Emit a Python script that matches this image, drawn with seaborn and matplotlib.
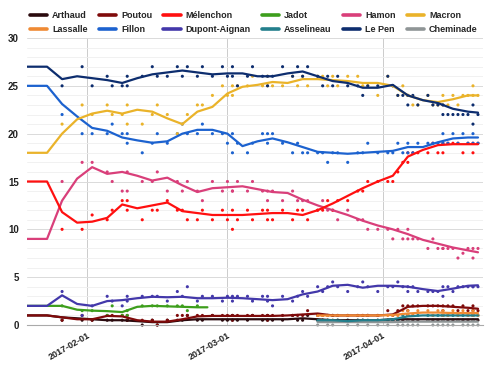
import numpy as np
import pandas as pd
import matplotlib
matplotlib.use("Agg")
import matplotlib.pyplot as plt
from matplotlib.lines import Line2D
import seaborn as sns

nan = np.nan

# ---------------- data ----------------
candidates = ["Arthaud", "Poutou", "Mélenchon", "Jadot", "Hamon", "Macron",
              "Lassalle", "Fillon", "Dupont-Aignan", "Asselineau", "Le Pen", "Cheminade"]
colors = ["#2a0a0e", "#7f0a0a", "#ff1010", "#3d9e1c", "#d93f7a", "#eab32a",
          "#ef8a34", "#1c62cf", "#4338aa", "#237f8c", "#0d2d6e", "#8f9596"]

# trend (smoothed average) knots
trend_dates = ["2017-01-20", "2017-01-24", "2017-01-27", "2017-01-30", "2017-02-02", "2017-02-05",
               "2017-02-08", "2017-02-11", "2017-02-14", "2017-02-17", "2017-02-20", "2017-02-23",
               "2017-02-26", "2017-03-01", "2017-03-04", "2017-03-07", "2017-03-10", "2017-03-13",
               "2017-03-16", "2017-03-19", "2017-03-22", "2017-03-25", "2017-03-28", "2017-03-31",
               "2017-04-03", "2017-04-06", "2017-04-09", "2017-04-12", "2017-04-15", "2017-04-18",
               "2017-04-20"]
trend_lepen = [27, 27, 25.7, 26.0, 25.8, 25.6, 25.3, 25.8, 26.2, 26.4, 26.6, 26.4, 26.2, 26.3, 26.3, 26.0,
               26.0, 26.3, 26.5, 26.0, 25.5, 25.3, 24.8, 24.8, 25.1, 24.0, 23.5, 23.2, 22.6, 22.3, 22.2]
trend_macron = [18, 18, 20.0, 21.5, 22.1, 22.4, 22.1, 22.5, 22.3, 21.6, 21.0, 22.3, 22.8, 24.2, 24.9, 25.1,
                25.4, 25.3, 25.7, 25.7, 25.6, 25.5, 25.3, 25.3, 25.0, 24.0, 23.5, 23.3, 23.6, 24.0, 24.0]
trend_fillon = [25, 25, 23.1, 21.8, 20.6, 20.3, 19.6, 19.3, 19.05, 19.2, 20.0, 20.4, 20.4, 20.0, 18.7, 19.2,
                19.5, 19.1, 18.6, 18.1, 18.0, 17.9, 18.0, 18.1, 18.2, 18.6, 18.6, 19.1, 19.5, 19.6, 19.6]
trend_melenchon = [15, 15, 11.8, 10.7, 10.8, 11.2, 12.6, 12.2, 12.5, 12.8, 11.9, 11.7, 11.5, 11.5, 11.5, 11.6,
                   11.7, 11.7, 11.5, 12.0, 12.7, 13.5, 14.3, 15.0, 15.6, 17.6, 18.3, 18.8, 18.9, 18.9, 18.9]
trend_hamon = [9, 9, 13.0, 15.3, 16.5, 15.8, 16.0, 15.6, 15.1, 15.4, 14.6, 13.9, 14.3, 14.4, 14.5, 14.2,
               13.9, 13.8, 13.1, 12.5, 12.0, 11.5, 10.9, 10.4, 10.0, 9.5, 8.9, 8.5, 8.1, 7.8, 7.6]
trend_dupont = [2, 2, 3.1, 2.2, 2.0, 2.5, 2.6, 2.8, 2.95, 2.9, 2.95, 2.8, 2.8, 2.85, 2.8, 2.7,
                2.6, 2.7, 3.2, 3.5, 4.1, 4.2, 3.9, 4.1, 4.1, 4.0, 3.75, 3.55, 3.8, 4.1, 4.15]
trend_arthaud = [1, 1, 0.8, 0.7, 0.6, 0.5, 0.5, 0.4, 0.3, 0.3, 0.5, 0.6, 0.6, 0.6, 0.6, 0.6,
                 0.6, 0.6, 0.7, 0.6, 0.5, 0.5, 0.5, 0.5, 0.6, 0.6, 0.6, 0.6, 0.6, 0.6, 0.6]
trend_poutou = [1, 1, 0.8, 0.6, 0.6, 0.95, 0.9, 0.5, 0.35, 0.35, 0.6, 0.9, 0.95, 0.95, 0.95, 0.95,
                0.95, 1.0, 1.1, 1.2, 1.0, 1.0, 1.0, 1.0, 1.1, 1.9, 2.0, 2.0, 1.9, 1.8, 1.7]

jadot_dates = ["2017-01-20", "2017-01-24", "2017-01-27", "2017-01-30", "2017-02-02", "2017-02-05",
               "2017-02-08", "2017-02-11", "2017-02-14", "2017-02-17", "2017-02-20", "2017-02-23",
               "2017-02-25"]
trend_jadot = [2, 2, 2.0, 1.6, 1.5, 1.45, 1.35, 1.9, 2.0, 1.95, 1.9, 1.85, 1.85]

minor_dates = ["2017-03-19", "2017-03-22", "2017-03-25", "2017-03-28", "2017-03-31", "2017-04-03",
               "2017-04-06", "2017-04-09", "2017-04-12", "2017-04-15", "2017-04-18", "2017-04-20"]
trend_lassalle = [1.0, 1.0, 1.0, 1.0, 1.0, 1.05, 1.2, 1.3, 1.3, 1.25, 1.25, 1.25]
trend_asselineau = [0.5, 0.5, 0.4, 0.5, 0.5, 0.6, 0.9, 1.0, 1.0, 1.0, 1.0, 1.0]
trend_cheminade = [0.3, 0.3, 0.3, 0.3, 0.3, 0.3, 0.35, 0.35, 0.35, 0.35, 0.35, 0.35]

# individual polls
poll_dates = [
    "2017-01-27", "2017-01-31", "2017-02-02", "2017-02-05", "2017-02-06", "2017-02-08", "2017-02-09", "2017-02-09", "2017-02-12", "2017-02-14",
    "2017-02-15", "2017-02-17", "2017-02-19", "2017-02-20", "2017-02-21", "2017-02-23", "2017-02-24", "2017-02-26", "2017-02-28", "2017-03-01",
    "2017-03-02", "2017-03-02", "2017-03-03", "2017-03-05", "2017-03-06", "2017-03-08", "2017-03-09", "2017-03-09", "2017-03-10", "2017-03-12",
    "2017-03-14", "2017-03-15", "2017-03-16", "2017-03-17", "2017-03-19", "2017-03-20", "2017-03-21", "2017-03-22", "2017-03-23", "2017-03-25",
    "2017-03-27", "2017-03-28", "2017-03-29", "2017-03-31", "2017-04-02", "2017-04-03", "2017-04-04", "2017-04-05", "2017-04-06", "2017-04-06",
    "2017-04-07", "2017-04-08", "2017-04-10", "2017-04-11", "2017-04-12", "2017-04-13", "2017-04-13", "2017-04-14", "2017-04-15", "2017-04-16",
    "2017-04-17", "2017-04-18", "2017-04-19", "2017-04-19", "2017-04-20"]
poll_lepen = [25, 27, 25, 26, 25, 25, 26, 25, 26, 27,
              26, 26, 27, 26, 27, 26, 27, 26, 27, 26,
              26, 27, 25, 26, 27, 26, 25, 26, 26, 27,
              26, 27, 26, 27, 26, 25, 26, 25, 26, 25,
              25, 24, 25, 25, 26, 25, 24, 24, 24, 23,
              24, 23, 24, 23, 23, 22, 23, 22, 22, 22,
              22, 22, 21, 23, 22]
poll_macron = [21, 23, 22, 23, 22, 22, 23, 21, 21, 22,
               23, 22, 20, 21, 22, 23, 23, 24, 25, 24,
               25, 24, 25, 25, 26, 25, 25, 26, 25, 25,
               26, 25, 26, 25, 26, 26, 25, 26, 25, 26,
               26, 25, 25, 24, 26, 25, 24, 25, 24, 24,
               23, 23, 24, 23, 23, 24, 23, 23, 24, 23,
               24, 24, 24, 25, 24]
poll_fillon = [22, 20, 20, 20, 21, 20, 19, 20, 18, 19,
               20, 19, 20, 21, 20, 20, 21, 20, 20, 19,
               20, 18, 19, 18, 19, 20, 19, 20, 20, 19,
               18, 19, 18, 18, 18, 18, 17, 18, 18, 17,
               18, 18, 19, 18, 18, 18, 19, 18, 19, 18,
               18, 19, 19, 19, 19, 20, 19, 19, 20, 19,
               20, 19, 20, 19, 19]
poll_melenchon = [10, 10, 11.5, 11, 12, 13, 13, 12, 11, 12,
                  12, 13, 12, 12, 11, 11, 12, 11, 12, 11,
                  10, 12, 11, 12, 11, 12, 11, 12, 11, 12,
                  11, 12, 12, 11, 12, 12, 13, 12, 13, 13,
                  14, 14, 15, 15, 15, 15, 16, 17, 17, 18,
                  18, 18, 18, 19, 18, 19, 18, 19, 19, 19,
                  18, 19, 19, 18, 19]
poll_hamon = [15, 17, 17, 16, 15, 14, 16, 14, 15, 15,
              16, 14, 15, 14, 15, 14, 13, 15, 14, 15,
              14, 14, 15, 14, 15, 14, 14, 13, 14, 13,
              14, 13, 13, 13, 12, 13, 12, 12, 11, 12,
              11, 11, 10, 10, 10, 9, 10, 9, 9, 10,
              9, 9, 8, 9, 8, 8, 8, 8, 8, 7,
              7.5, 8, 7, 8, 8]
poll_dupont = [3.5, 1, 2, 3, 2.5, 2, 3, 2.5, 3, 3,
               3, 2.5, 3.5, 3, 4, 2.5, 3, 3, 2.5, 3,
               3, 2.5, 3, 3, 2.5, 3, 2.5, 3, 2, 3,
               2.5, 3, 3.5, 3, 4, 3.5, 4, 4.5, 4, 3.5,
               4, 4.5, 4, 3.5, 4, 4, 4.5, 4, 4, 3.5,
               4, 3.5, 3.5, 3.5, 3.5, 3, 4, 4, 3.5, 4,
               4, 4, 4, 4, 4]
poll_arthaud = [0.5, 0.5, 0.5, 0.5, 0.5, 0.5, 0.5, 0.5, 0, 0.5,
                0, 0.5, 0.5, 0.5, 1, 0.5, 0.5, 1, 0.5, 0.5,
                0.5, 1, 0.5, 0.5, 1, 0.5, 0.5, 1, 0.5, 0.5,
                1, 0.5, 0.5, 1, 0.5, 0.5, 0.5, 1, 0.5, 0.5,
                0.5, 0.5, 1, 0.5, 0.5, 0.5, 0.5, 0.5, 0.5, 1,
                0.5, 0.5, 0.5, 0.5, 0.5, 1, 0.5, 0.5, 0.5, 0.5,
                0.5, 0.5, 0.5, 1, 0.5]
poll_poutou = [0.5, 1, 0.5, 1, 1, 1, 1, 0.5, 0.5, 0.5,
               0, 0.5, 1, 1, 1, 1, 1, 1, 1, 1,
               1, 0.5, 1, 1, 1, 1, 1, 0.5, 1, 1,
               1, 1, 1, 1.5, 1, 1, 1, 1, 1, 1,
               1, 1, 1, 1, 1.5, 1, 1.5, 2, 2, 1.5,
               2, 2, 2, 2, 2, 2, 1.5, 2, 2, 1.5,
               2, 1.5, 1.5, 2, 1.5]
poll_jadot = [2, 1.5, 1.5, 1, 2, 1, 1.5, 1, 2, 2,
              2, 2, 2, 2, 1.5, 2, nan, nan, nan, nan,
              nan, nan, nan, nan, nan, nan, nan, nan, nan, nan,
              nan, nan, nan, nan, nan, nan, nan, nan, nan, nan,
              nan, nan, nan, nan, nan, nan, nan, nan, nan, nan,
              nan, nan, nan, nan, nan, nan, nan, nan, nan, nan,
              nan, nan, nan, nan, nan]
poll_lassalle = [nan, nan, nan, nan, nan, nan, nan, nan, nan, nan,
                 nan, nan, nan, nan, nan, nan, nan, nan, nan, nan,
                 nan, nan, nan, nan, nan, nan, nan, nan, nan, nan,
                 nan, nan, nan, nan, 1, 1, 1, 0.5, 1, 1,
                 1, 1, 1, 1, 1, 1, 1, 1.5, 1, 1.5,
                 1, 1.5, 1.5, 1, 1.5, 1, 1.5, 1, 1.5, 1,
                 1.5, 1, 1, 1.5, 1]
poll_asselineau = [nan, nan, nan, nan, nan, nan, nan, nan, nan, nan,
                   nan, nan, nan, nan, nan, nan, nan, nan, nan, nan,
                   nan, nan, nan, nan, nan, nan, nan, nan, nan, nan,
                   nan, nan, nan, nan, 0.5, 0.5, 0.5, 0.5, 0.5, 0.5,
                   0.5, 0.5, 0.5, 0.5, 0.5, 0.5, 0.5, 1, 1, 1,
                   1, 1, 1, 1, 1, 1, 1, 1, 1, 1,
                   1, 1, 1, 1, 1]
poll_cheminade = [nan, nan, nan, nan, nan, nan, nan, nan, nan, nan,
                  nan, nan, nan, nan, nan, nan, nan, nan, nan, nan,
                  nan, nan, nan, nan, nan, nan, nan, nan, nan, nan,
                  nan, nan, nan, nan, 0, 0.5, 0, 0, 0.5, 0,
                  0, 0.5, 0, 0, 0, 0.5, 0, 0, 0.5, 0,
                  0, 0, 0.5, 0, 0, 0.5, 0, 0, 0, 0.5,
                  0, 0, 0.5, 0, 0]

tick_dates = ["2017-02-01", "2017-03-01", "2017-04-01"]
y_ticks = [0, 5, 10, 15, 20, 25, 30]

# ---------------- build long tables ----------------
trend_sets = [
    ("Arthaud", trend_dates, trend_arthaud), ("Poutou", trend_dates, trend_poutou),
    ("Jadot", jadot_dates, trend_jadot), ("Cheminade", minor_dates, trend_cheminade),
    ("Asselineau", minor_dates, trend_asselineau), ("Lassalle", minor_dates, trend_lassalle),
    ("Dupont-Aignan", trend_dates, trend_dupont), ("Hamon", trend_dates, trend_hamon),
    ("Mélenchon", trend_dates, trend_melenchon), ("Fillon", trend_dates, trend_fillon),
    ("Macron", trend_dates, trend_macron), ("Le Pen", trend_dates, trend_lepen),
]
rows = []
for name, ds, vs in trend_sets:
    for d, v in zip(ds, vs):
        rows.append((name, pd.Timestamp(d), v))
trend_df = pd.DataFrame(rows, columns=["candidate", "date", "value"])

poll_sets = [
    ("Arthaud", poll_arthaud), ("Poutou", poll_poutou), ("Jadot", poll_jadot),
    ("Cheminade", poll_cheminade), ("Asselineau", poll_asselineau), ("Lassalle", poll_lassalle),
    ("Dupont-Aignan", poll_dupont), ("Hamon", poll_hamon), ("Mélenchon", poll_melenchon),
    ("Fillon", poll_fillon), ("Macron", poll_macron), ("Le Pen", poll_lepen),
]
rows = []
for name, vs in poll_sets:
    for d, v in zip(poll_dates, vs):
        if not np.isnan(v):
            rows.append((name, pd.Timestamp(d), v))
poll_df = pd.DataFrame(rows, columns=["candidate", "date", "value"])

palette = dict(zip(candidates, colors))

# ---------------- plot ----------------
sns.set_theme(style="white")
plt.rcParams["font.family"] = ["Liberation Sans", "DejaVu Sans"]
plt.rcParams["font.weight"] = "bold"

fig = plt.figure(figsize=(4.86, 3.68), dpi=100)
ax = fig.add_axes([27 / 486, 1 - 325 / 368, 456 / 486, 287 / 368])

sns.scatterplot(data=poll_df, x="date", y="value", hue="candidate", palette=palette,
                s=5, linewidth=0, legend=False, ax=ax, clip_on=False, zorder=2)
sns.lineplot(data=trend_df, x="date", y="value", hue="candidate", palette=palette,
             estimator=None, linewidth=1.6, legend=False, ax=ax, zorder=3)

ax.set_xlim(pd.Timestamp("2017-01-20"), pd.Timestamp("2017-04-21"))
ax.set_ylim(0, 30)
ax.set_xlabel("")
ax.set_ylabel("")
ax.set_yticks(y_ticks)
ax.set_yticks(np.arange(0, 31, 1), minor=True)
ax.set_yticklabels([str(t) for t in y_ticks], fontsize=7, fontweight="bold", color="#222222")
ticks = [pd.Timestamp(t) for t in tick_dates]
ax.set_xticks(ticks)
ax.set_xticklabels(tick_dates, rotation=30, ha="right", rotation_mode="anchor",
                   fontsize=6.5, fontweight="bold", color="#222222")
ax.tick_params(axis="both", which="both", length=0)
ax.tick_params(axis="x", pad=4)
ax.tick_params(axis="y", pad=6)

ax.grid(which="minor", axis="y", color="#efefef", linewidth=0.6, zorder=0)
ax.grid(which="major", axis="y", color="#dadada", linewidth=0.7, zorder=0)
ax.grid(which="major", axis="x", color="#cccccc", linewidth=0.7, zorder=0)
ax.set_axisbelow(True)
for s in ["top", "right", "left"]:
    ax.spines[s].set_visible(False)
ax.spines["bottom"].set_color("#aaaaaa")
ax.spines["bottom"].set_linewidth(0.8)

# legend: two rows of six
legend_order = ["Arthaud", "Lassalle", "Poutou", "Fillon", "Mélenchon", "Dupont-Aignan",
                "Jadot", "Asselineau", "Hamon", "Le Pen", "Macron", "Cheminade"]
handles = [Line2D([0], [0], color=palette[c], lw=2.6) for c in legend_order]
fig.legend(handles, legend_order, ncol=6, loc="upper left", bbox_to_anchor=(0.045, 0.992),
           frameon=False, prop={"weight": "bold", "size": 6.5},
           handlelength=1.9, handletextpad=0.55, columnspacing=1.25, labelspacing=0.6)

fig.savefig("out.png", dpi=100)
